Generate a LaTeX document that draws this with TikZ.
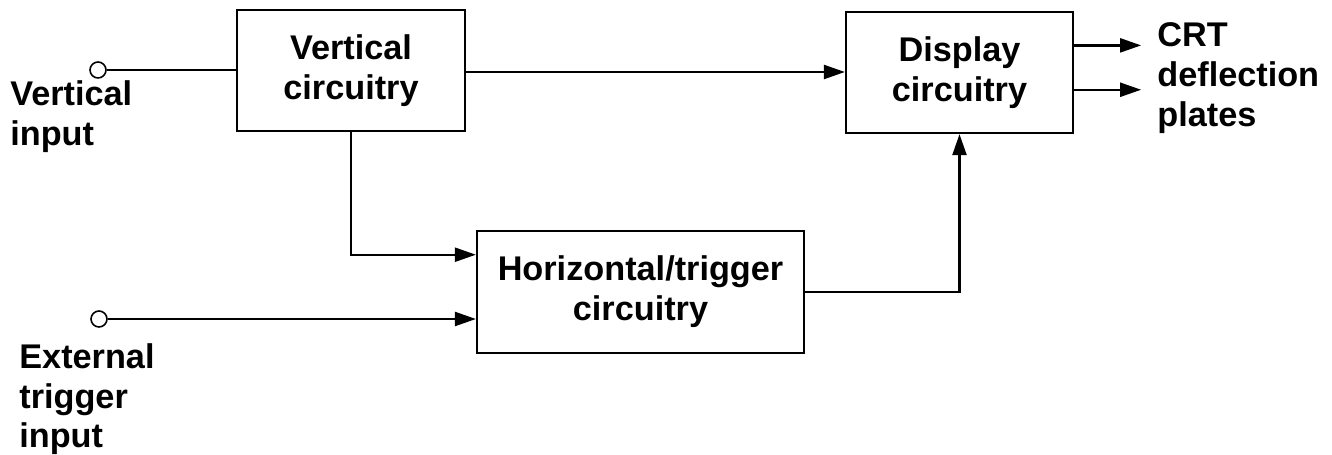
\documentclass[tikz,border=0pt]{standalone}
\usepackage{fontspec}
\setmainfont{Liberation Sans}
\usetikzlibrary{arrows.meta, calc, positioning}
\tikzset{block/.style={draw, line width=1.3pt, align=center, inner sep=0pt,
    font=\bfseries\fontsize{19.5}{22.7}\selectfont}}
\tikzset{signal/.style={-{Triangle[length=12pt, width=8pt]}, line width=1.3pt}}
\tikzset{wire/.style={line width=1.3pt}}
\tikzset{terminal/.style={circle, draw, line width=0.9pt, minimum size=0.32cm, inner sep=0pt}}
\tikzset{tag/.style={align=left, inner sep=0pt, anchor=north west,
    font=\bfseries\fontsize{19.5}{22.7}\selectfont}}

\begin{document}
\begin{tikzpicture}[x=0.02cm, y=-0.02cm]
    \useasboundingbox (0,0) rectangle (1332,455);

    % blocks
    \node[block, minimum width=4.56cm, minimum height=2.42cm] (VC) at (351,70.5) {Vertical\\circuitry};
    \node[block, minimum width=4.54cm, minimum height=2.42cm] (DC) at (959.5,72.5) {Display\\circuitry};
    \node[block, minimum width=6.54cm, minimum height=2.44cm] (HC) at (640.5,292) {Horizontal/trigger\\circuitry};

    % inputs
    \node[terminal] (Vin) at (98,70) {};
    \node[terminal] (Ein) at (99,319) {};
    \node[tag] (Vlab) at (10,80) {Vertical\\input};
    \node[tag] (Elab) at (19,343) {External\\trigger\\input};
    \node[tag] (Clab) at (1157,22) {CRT\\deflection\\plates};

    \coordinate (H1) at ($(HC.north west)!0.2!(HC.south west)$);
    \coordinate (H2) at ($(HC.north west)!0.72!(HC.south west)$);
    \coordinate (D1) at ($(DC.north east)!0.28!(DC.south east)$);
    \coordinate (D2) at ($(DC.north east)!0.64!(DC.south east)$);
    \coordinate (O1) at ($(D1)+(67,0)$);
    \coordinate (O2) at ($(D2)+(67,0)$);

    \draw[wire] (Vin.east) -- (Vin -| VC.west);
    \draw[signal] (VC.east |- 0,72) -- (DC.west |- 0,72);
    \draw[signal] (VC.south) |- (H1);
    \draw[signal] (Ein.east) -- (Ein -| H2);
    \draw[signal] (HC.east) -| (DC.south);
    \draw[signal] (D1) -- (O1);
    \draw[signal] (D2) -- (O2);
\end{tikzpicture}
\end{document}
